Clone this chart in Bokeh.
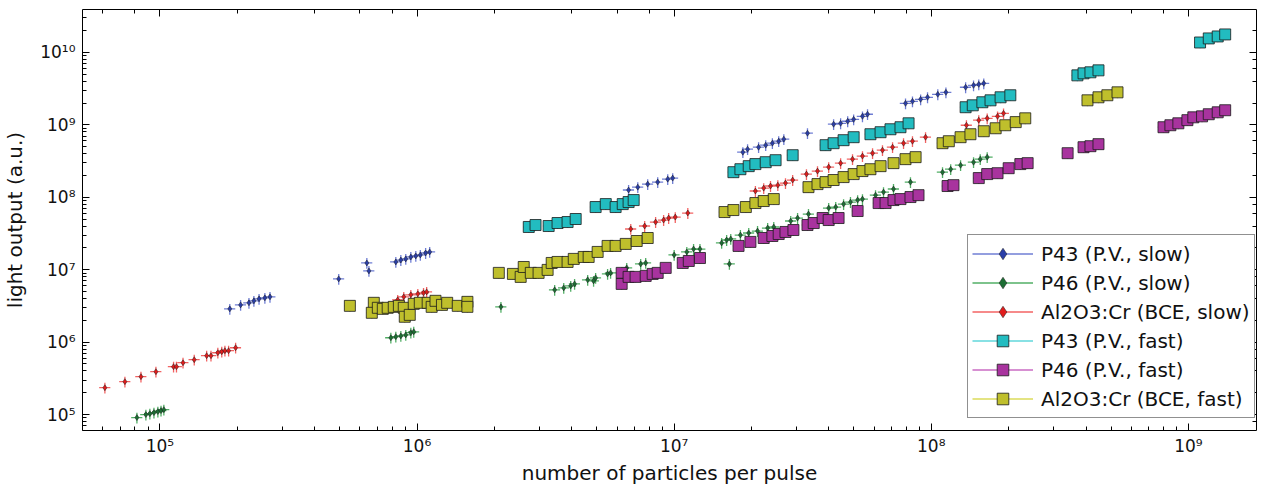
import numpy as np
from bokeh.plotting import figure
from bokeh.models import (Range1d, LogAxis, LogTicker, CustomJSTickFormatter,
                          Legend, LegendItem, ColumnDataSource)
from bokeh.embed import file_html
from bokeh.resources import INLINE

# ---------------- data ----------------
p43_slow_x = [1.87e5, 2.06e5, 2.22e5, 2.32e5, 2.43e5, 2.56e5, 2.68e5, 4.96e5, 6.38e5, 6.50e5,
              8.27e5, 8.65e5, 9.04e5, 9.46e5, 9.89e5, 1.03e6, 1.08e6, 1.12e6,
              6.65e6, 7.22e6, 7.89e6, 8.63e6, 9.44e6, 9.87e6,
              1.85e7, 1.93e7, 2.13e7, 2.27e7, 2.41e7, 2.55e7, 2.67e7, 3.30e7,
              4.17e7, 4.44e7, 4.73e7, 4.99e7, 5.40e7, 5.65e7,
              7.94e7, 8.45e7, 9.09e7, 9.67e7, 1.06e8, 1.14e8, 1.36e8, 1.46e8, 1.53e8, 1.60e8]
p43_slow_y = [2.88e6, 3.27e6, 3.49e6, 3.72e6, 3.96e6, 4.09e6, 4.22e6, 7.47e6, 1.24e7, 9.63e6,
              1.28e7, 1.36e7, 1.41e7, 1.50e7, 1.55e7, 1.60e7, 1.70e7, 1.76e7,
              1.26e8, 1.38e8, 1.52e8, 1.62e8, 1.78e8, 1.84e8,
              4.19e8, 4.61e8, 4.91e8, 5.24e8, 5.58e8, 5.94e8, 6.34e8, 7.66e8,
              1.02e9, 1.05e9, 1.12e9, 1.19e9, 1.31e9, 1.40e9,
              1.98e9, 2.11e9, 2.25e9, 2.40e9, 2.64e9, 2.81e9, 3.30e9, 3.51e9, 3.62e9, 3.74e9]

p46_slow_x = [8.14e4, 8.82e4, 9.14e4, 9.48e4, 9.82e4, 1.01e5, 1.036e5,
              7.91e5, 8.27e5, 8.65e5, 9.04e5, 9.46e5, 9.71e5, 2.12e6,
              3.43e6, 3.72e6, 3.96e6, 4.10e6, 4.61e6, 4.86e6, 4.95e6, 5.51e6, 5.66e6,
              6.54e6, 7.41e6, 7.75e6, 1.0e7, 1.12e7, 1.19e7, 1.26e7,
              1.53e7, 1.60e7, 1.66e7, 1.64e7, 1.81e7, 1.95e7, 2.11e7, 2.31e7, 2.44e7,
              2.84e7, 3.02e7, 3.33e7, 3.99e7, 4.25e7, 4.56e7, 4.85e7, 5.17e7, 5.40e7,
              6.07e7, 6.52e7, 7.13e7, 8.30e7, 1.106e8, 1.19e8, 1.30e8, 1.46e8, 1.55e8, 1.65e8]
p46_slow_y = [9.09e4, 1.0e5, 1.03e5, 1.065e5, 1.10e5, 1.135e5, 1.17e5,
              1.15e6, 1.19e6, 1.22e6, 1.26e6, 1.35e6, 1.39e6, 3.07e6,
              5.27e6, 5.61e6, 5.98e6, 6.37e6, 7.24e6, 7.01e6, 7.71e6, 8.75e6, 9.04e6,
              1.06e7, 1.20e7, 1.24e7, 1.60e7, 1.76e7, 1.93e7, 1.93e7,
              2.34e7, 2.57e7, 2.66e7, 1.20e7, 3.01e7, 3.21e7, 3.42e7, 3.76e7, 3.89e7,
              4.70e7, 5.17e7, 5.87e7, 7.10e7, 7.33e7, 8.05e7, 8.59e7, 9.15e7, 9.44e7,
              1.07e8, 1.18e8, 1.30e8, 1.62e8, 2.22e8, 2.44e8, 2.77e8, 3.05e8, 3.36e8, 3.58e8]

al_slow_x = [6.11e4, 7.31e4, 8.44e4, 9.65e4, 1.13e5, 1.16e5, 1.23e5, 1.36e5, 1.52e5, 1.58e5,
             1.68e5, 1.74e5, 1.79e5, 1.85e5, 1.97e5,
             8.41e5, 8.88e5, 9.46e5, 1.007e6, 1.06e6, 1.09e6,
             6.78e6, 7.68e6, 8.47e6, 9.10e6, 9.52e6, 1.01e7, 1.13e7,
             2.07e7, 2.23e7, 2.37e7, 2.53e7, 2.71e7, 2.89e7, 3.27e7, 3.61e7, 3.99e7,
             4.44e7, 4.94e7, 5.40e7, 5.91e7, 6.46e7, 7.07e7, 7.80e7, 8.45e7, 9.50e7,
             1.37e8, 1.53e8, 1.65e8, 1.81e8, 1.91e8]
al_slow_y = [2.35e5, 2.85e5, 3.34e5, 3.91e5, 4.58e5, 4.58e5, 5.20e5, 5.72e5, 6.50e5, 6.50e5,
             7.14e5, 7.38e5, 7.62e5, 7.62e5, 8.37e5,
             3.84e6, 4.22e6, 4.50e6, 4.64e6, 4.79e6, 4.94e6,
             3.65e7, 4.01e7, 4.55e7, 4.85e7, 5.17e7, 5.33e7, 6.06e7,
             1.22e8, 1.34e8, 1.43e8, 1.47e8, 1.57e8, 1.73e8, 2.09e8, 2.30e8, 2.61e8,
             2.96e8, 3.36e8, 3.70e8, 4.06e8, 4.47e8, 4.91e8, 5.58e8, 5.94e8, 6.75e8,
             9.87e8, 1.16e9, 1.23e9, 1.31e9, 1.44e9]

p43_fast_x = [2.72e6, 2.89e6, 3.25e6, 3.52e6, 3.85e6, 4.14e6,
              4.95e6, 5.42e6, 5.92e6, 6.31e6, 6.65e6, 6.96e6,
              1.70e7, 1.81e7, 1.95e7, 2.07e7, 2.27e7, 2.48e7, 2.89e7,
              3.88e7, 4.17e7, 4.56e7, 4.99e7, 5.80e7, 6.35e7, 6.94e7, 7.59e7, 8.16e7,
              1.36e8, 1.45e8, 1.58e8, 1.70e8, 1.86e8, 2.03e8,
              3.70e8, 3.91e8, 4.16e8, 4.47e8, 1.11e9, 1.20e9, 1.30e9, 1.39e9]
p43_fast_y = [3.89e7, 4.14e7, 4.01e7, 4.41e7, 4.55e7, 5.01e7,
              7.33e7, 8.05e7, 7.33e7, 8.05e7, 8.59e7, 9.15e7,
              2.22e8, 2.44e8, 2.69e8, 2.87e8, 3.05e8, 3.25e8, 3.81e8,
              5.24e8, 5.58e8, 6.14e8, 6.75e8, 7.42e8, 7.91e8, 8.69e8, 9.27e8, 1.05e9,
              1.75e9, 1.86e9, 2.05e9, 2.18e9, 2.40e9, 2.56e9,
              4.82e9, 5.14e9, 5.31e9, 5.65e9, 1.37e10, 1.56e10, 1.66e10, 1.77e10]

p46_fast_x = [6.25e6, 6.25e6, 6.65e6, 7.08e6, 7.75e6, 8.25e6, 8.63e6, 9.27e6,
              1.08e7, 1.14e7, 1.26e7,
              1.78e7, 1.98e7, 2.23e7, 2.41e7, 2.55e7, 2.71e7, 2.91e7,
              3.30e7, 3.49e7, 3.78e7, 3.99e7, 4.36e7, 5.17e7,
              6.24e7, 6.64e7, 7.13e7, 7.59e7, 8.30e7, 8.92e7, 1.157e8, 1.22e8,
              1.53e8, 1.65e8, 1.81e8, 2.0e8, 2.22e8, 2.37e8,
              3.39e8, 3.91e8, 4.16e8, 4.47e8,
              8.00e8, 8.51e8, 9.14e8, 9.91e8, 1.045e9, 1.13e9, 1.20e9, 1.30e9, 1.39e9]
p46_fast_y = [9.04e6, 6.37e6, 7.96e6, 7.96e6, 8.22e6, 8.75e6, 9.04e6, 1.06e7,
              1.24e7, 1.32e7, 1.45e7,
              2.13e7, 2.42e7, 2.74e7, 2.92e7, 3.11e7, 3.32e7, 3.53e7,
              4.14e7, 4.41e7, 5.17e7, 4.85e7, 5.17e7, 6.46e7,
              8.32e7, 8.32e7, 9.15e7, 9.44e7, 1.007e8, 1.07e8, 1.43e8, 1.47e8,
              1.84e8, 2.09e8, 2.15e8, 2.52e8, 2.87e8, 2.96e8,
              4.06e8, 4.91e8, 5.07e8, 5.41e8,
              9.27e8, 9.87e8, 1.05e9, 1.16e9, 1.27e9, 1.31e9, 1.40e9, 1.49e9, 1.59e9]

al_fast_x = [5.48e5, 6.79e5, 6.67e5, 7.04e5, 7.36e5, 7.69e5, 8.12e5, 8.50e5, 8.88e5, 8.96e5,
             9.37e5, 9.71e5, 1.025e6, 1.10e6, 1.14e6, 1.18e6, 1.25e6, 1.31e6, 1.44e6, 1.57e6, 1.57e6,
             2.08e6, 2.36e6, 2.53e6, 2.60e6, 2.77e6, 2.97e6, 3.22e6, 3.34e6, 3.52e6, 3.85e6,
             4.07e6, 4.45e6, 4.65e6, 5.04e6, 5.51e6, 5.92e6, 6.48e6, 7.15e6, 7.89e6,
             1.57e7, 1.70e7, 1.90e7, 2.07e7, 2.23e7, 2.44e7,
             3.33e7, 3.61e7, 3.88e7, 4.17e7, 4.56e7, 4.99e7, 5.40e7, 5.80e7, 6.35e7, 7.13e7, 7.94e7, 8.69e7,
             1.106e8, 1.17e8, 1.30e8, 1.42e8, 1.60e8, 1.78e8, 1.94e8, 2.13e8, 2.32e8,
             4.05e8, 4.47e8, 4.84e8, 5.30e8]
al_fast_y = [3.17e6, 3.49e6, 2.54e6, 2.98e6, 2.88e6, 2.98e6, 3.07e6, 3.17e6, 2.98e6, 2.24e6,
             2.38e6, 3.38e6, 3.49e6, 3.49e6, 3.07e6, 3.72e6, 3.27e6, 3.49e6, 3.17e6, 3.60e6, 3.07e6,
             9.04e6, 8.75e6, 7.96e6, 1.09e7, 9.04e6, 9.04e6, 9.94e6, 1.24e7, 1.28e7, 1.28e7,
             1.41e7, 1.50e7, 1.50e7, 1.76e7, 2.13e7, 2.13e7, 2.27e7, 2.49e7, 2.74e7,
             6.25e7, 6.66e7, 7.33e7, 8.32e7, 8.87e7, 9.44e7,
             1.38e8, 1.52e8, 1.62e8, 1.73e8, 1.90e8, 2.09e8, 2.30e8, 2.44e8, 2.69e8, 2.96e8, 3.36e8, 3.58e8,
             5.58e8, 5.94e8, 6.75e8, 7.42e8, 8.16e8, 8.97e8, 9.87e8, 1.09e9, 1.23e9,
             2.18e9, 2.40e9, 2.56e9, 2.81e9]

# relative uncertainties (error bars)
x_err_frac = 0.05
y_err_frac = 0.17

labels = ["P43 (P.V., slow)", "P46 (P.V., slow)", "Al2O3:Cr (BCE, slow)",
          "P43 (P.V., fast)", "P46 (P.V., fast)", "Al2O3:Cr (BCE, fast)"]

series = [
    (p43_slow_x, p43_slow_y, "#2a3ea8", "#5566cc", "diamond", 6),
    (p46_slow_x, p46_slow_y, "#1d6e34", "#33a04a", "diamond", 6),
    (al_slow_x, al_slow_y, "#e01c1c", "#f04848", "diamond", 6),
    (p43_fast_x, p43_fast_y, "#22bcc0", "#44d0d4", "square", 11),
    (p46_fast_x, p46_fast_y, "#a8339e", "#c050b8", "square", 11),
    (al_fast_x, al_fast_y, "#bfbf2c", "#d4d43c", "square", 11),
]

p = figure(width=1264, height=487, x_axis_type="log", y_axis_type="log",
           x_range=Range1d(5.0e4, 1.84e9), y_range=Range1d(6.03e4, 3.91e10),
           output_backend="svg", toolbar_location=None,
           min_border_left=82, min_border_right=8, min_border_top=9, min_border_bottom=56)
p.grid.visible = False
p.outline_line_color = "black"
p.outline_line_width = 1
p.background_fill_color = "white"
p.border_fill_color = "white"

sup_js = """
const sup = {'0':'\u2070','1':'\u00b9','2':'\u00b2','3':'\u00b3','4':'\u2074','5':'\u2075',
             '6':'\u2076','7':'\u2077','8':'\u2078','9':'\u2079','-':'\u207b'};
const e = Math.round(Math.log10(tick));
return '10' + String(e).split('').map(c => sup[c]).join('');
"""

def style_axis(ax, show_labels):
    ax.major_tick_in = 7
    ax.major_tick_out = 0
    ax.minor_tick_in = 4
    ax.minor_tick_out = 0
    ax.major_tick_line_color = "black"
    ax.minor_tick_line_color = "black"
    ax.axis_line_color = None
    if show_labels:
        ax.formatter = CustomJSTickFormatter(code=sup_js)
        ax.major_label_text_font = "DejaVu Sans"
        ax.major_label_text_font_size = "17px"
        ax.major_label_text_color = "#111111"
        ax.axis_label_text_font = "DejaVu Sans"
        ax.axis_label_text_font_size = "20px"
        ax.axis_label_text_font_style = "normal"
        ax.axis_label_text_color = "#111111"
    else:
        ax.formatter = CustomJSTickFormatter(code="return '';")
        ax.major_label_text_font_size = "8px"
        ax.major_label_standoff = 0

p.xaxis.axis_label = "number of particles per pulse"
p.yaxis.axis_label = "light output (a.u.)"
style_axis(p.xaxis[0], True)
style_axis(p.yaxis[0], True)
p.xaxis[0].major_label_standoff = 5
p.xaxis[0].axis_label_standoff = 2
p.yaxis[0].major_label_standoff = 7
p.yaxis[0].axis_label_standoff = 10

top_ax = LogAxis(ticker=LogTicker())
style_axis(top_ax, False)
p.add_layout(top_ax, "above")
right_ax = LogAxis(ticker=LogTicker())
style_axis(right_ax, False)
p.add_layout(right_ax, "right")

items = []
for (xs, ys, col, ecol, marker, size), lab in zip(series, labels):
    x = np.array(xs)
    y = np.array(ys)
    seg = ColumnDataSource(dict(
        x0=np.concatenate([x * (1 - x_err_frac), x]),
        x1=np.concatenate([x * (1 + x_err_frac), x]),
        y0=np.concatenate([y, y * (1 - y_err_frac)]),
        y1=np.concatenate([y, y * (1 + y_err_frac)]),
    ))
    r_err = p.segment(x0="x0", y0="y0", x1="x1", y1="y1", source=seg,
                      line_color=ecol, line_width=1.3, line_alpha=0.85)
    r_pt = p.scatter(x=x, y=y, marker=marker, size=size, fill_color=col,
                     line_color="#1a1a1a", line_width=0.8 if marker == "square" else 0.5)
    items.append(LegendItem(label=lab, renderers=[r_err, r_pt]))

legend = Legend(items=items, location=(885, 12), glyph_width=61, glyph_height=29,
                label_height=29, spacing=0, padding=4, label_standoff=8,
                label_text_font="DejaVu Sans", label_text_font_size="20px",
                label_text_color="#111111",
                border_line_color="#222222", border_line_width=1.5,
                background_fill_color="white", background_fill_alpha=1.0)
p.add_layout(legend)

with open("out.html", "w", encoding="utf-8") as f:
    f.write(file_html(p, INLINE))
